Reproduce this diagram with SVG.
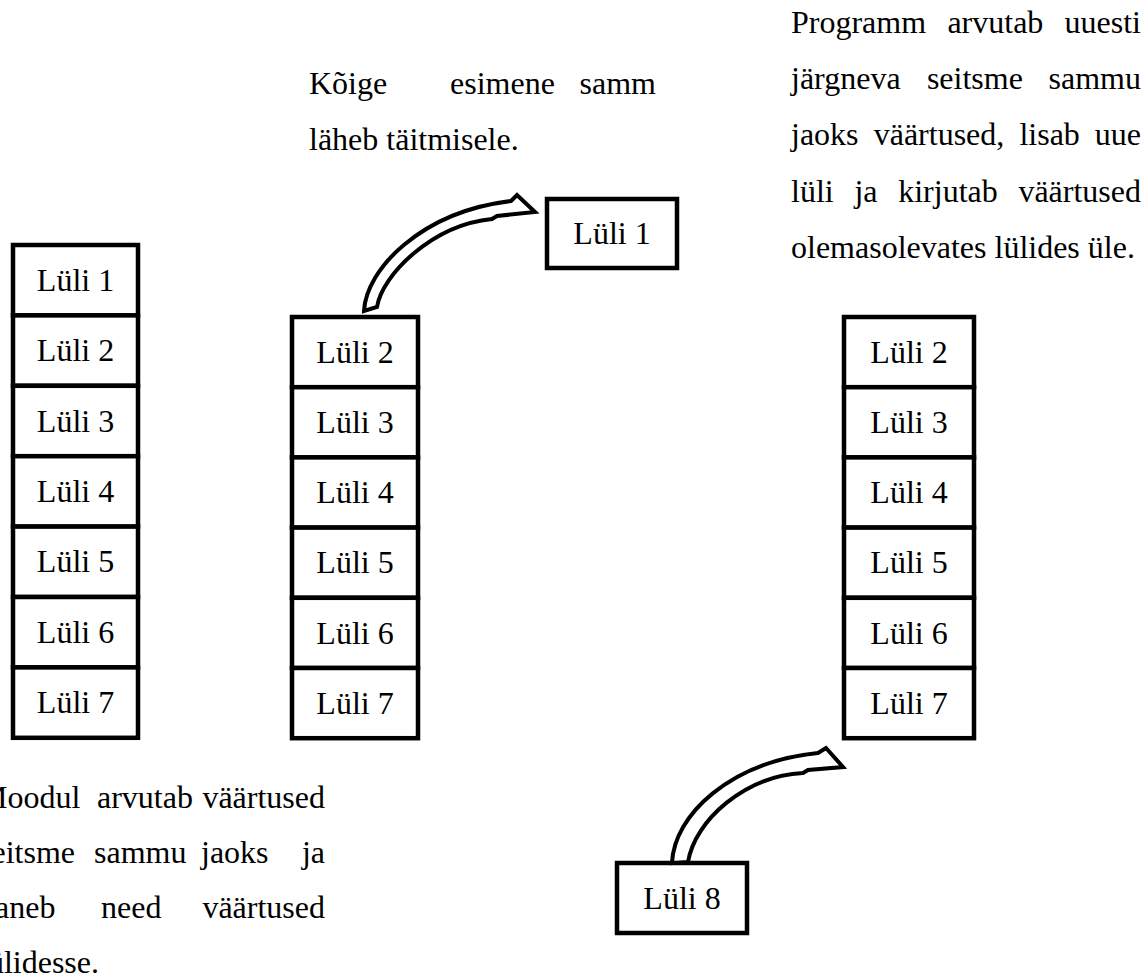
<svg xmlns="http://www.w3.org/2000/svg" width="1147" height="977" viewBox="0 0 1147 977">
<style>
text{font-family:"Liberation Serif","Times New Roman",serif;font-size:32px;fill:#000}
.c{text-anchor:middle}
.e{text-anchor:end}
.box{fill:#fff;stroke:#000;stroke-width:4.5}
.arr{fill:#fff;stroke:#000;stroke-width:4;stroke-linejoin:miter}
</style>
<rect width="1147" height="977" fill="#fff"/>
<g id="stack-left">
<g id="L1-a"><rect class="box" x="13" y="245" width="125" height="70.4"/><text class="c" x="75.5" y="290.8">Lüli 1</text></g>
<g id="L2-a"><rect class="box" x="13" y="315.4" width="125" height="70.4"/><text class="c" x="75.5" y="361.2">Lüli 2</text></g>
<g id="L3-a"><rect class="box" x="13" y="385.8" width="125" height="70.4"/><text class="c" x="75.5" y="431.6">Lüli 3</text></g>
<g id="L4-a"><rect class="box" x="13" y="456.2" width="125" height="70.4"/><text class="c" x="75.5" y="502">Lüli 4</text></g>
<g id="L5-a"><rect class="box" x="13" y="526.6" width="125" height="70.4"/><text class="c" x="75.5" y="572.4">Lüli 5</text></g>
<g id="L6-a"><rect class="box" x="13" y="597" width="125" height="70.4"/><text class="c" x="75.5" y="642.8">Lüli 6</text></g>
<g id="L7-a"><rect class="box" x="13" y="667.4" width="125" height="70.4"/><text class="c" x="75.5" y="713.2">Lüli 7</text></g>
</g>
<g id="stack-middle">
<g id="L2-b"><rect class="box" x="292" y="317" width="126" height="70.2"/><text class="c" x="355" y="362.7">Lüli 2</text></g>
<g id="L3-b"><rect class="box" x="292" y="387.2" width="126" height="70.2"/><text class="c" x="355" y="432.9">Lüli 3</text></g>
<g id="L4-b"><rect class="box" x="292" y="457.4" width="126" height="70.2"/><text class="c" x="355" y="503.1">Lüli 4</text></g>
<g id="L5-b"><rect class="box" x="292" y="527.6" width="126" height="70.2"/><text class="c" x="355" y="573.3">Lüli 5</text></g>
<g id="L6-b"><rect class="box" x="292" y="597.8" width="126" height="70.2"/><text class="c" x="355" y="643.5">Lüli 6</text></g>
<g id="L7-b"><rect class="box" x="292" y="668" width="126" height="70.2"/><text class="c" x="355" y="713.7">Lüli 7</text></g>
</g>
<g id="stack-right">
<g id="L2-c"><rect class="box" x="844" y="317" width="130" height="70.2"/><text class="c" x="909" y="362.7">Lüli 2</text></g>
<g id="L3-c"><rect class="box" x="844" y="387.2" width="130" height="70.2"/><text class="c" x="909" y="432.9">Lüli 3</text></g>
<g id="L4-c"><rect class="box" x="844" y="457.4" width="130" height="70.2"/><text class="c" x="909" y="503.1">Lüli 4</text></g>
<g id="L5-c"><rect class="box" x="844" y="527.6" width="130" height="70.2"/><text class="c" x="909" y="573.3">Lüli 5</text></g>
<g id="L6-c"><rect class="box" x="844" y="597.8" width="130" height="70.2"/><text class="c" x="909" y="643.5">Lüli 6</text></g>
<g id="L7-c"><rect class="box" x="844" y="668" width="130" height="70.2"/><text class="c" x="909" y="713.7">Lüli 7</text></g>
</g>
<g id="L1-out"><rect class="box" x="547" y="199" width="130" height="69"/><text class="c" x="612" y="244">Lüli 1</text></g>
<g id="L8-new"><rect class="box" x="617" y="863" width="130" height="70"/><text class="c" x="682" y="908.5">Lüli 8</text></g>
<g id="connectors">
<path class="arr" d="M364,311 C366,270 420,212 511,201 L517,195 L535,212 L497,216 L492,219 C432,225 382,275 377,307 Z"/>
<path class="arr" d="M672,863 C674,815 730,762 818,753 L826,748 L843,767 L808,770 L803,773 C745,776 695,820 688,862 Z"/>
</g>
<g id="text-middle">
<text x="309" y="94">Kõige</text>
<text x="450" y="94">esimene</text>
<text class="e" x="656" y="94">samm</text>
<text x="309" y="150">läheb täitmisele.</text>
</g>
<g id="text-right">
<text x="791" y="33">Programm</text><text x="947.4" y="33">arvutab</text><text class="e" x="1141" y="33">uuesti</text>
<text x="791" y="89">järgneva</text><text x="926.9" y="89">seitsme</text><text class="e" x="1141" y="89">sammu</text>
<text x="791" y="145">jaoks</text><text x="873.7" y="145">väärtused,</text><text x="1019.4" y="145">lisab</text><text class="e" x="1141" y="145">uue</text>
<text x="791" y="202">lüli</text><text x="854.4" y="202">ja</text><text x="898.2" y="202">kirjutab</text><text class="e" x="1141" y="202">väärtused</text>
<text x="791" y="258">olemasolevates lülides üle.</text>
</g>
<g id="text-left">
<text x="-21" y="808">Moodul</text><text x="97" y="808">arvutab</text><text class="e" x="325" y="808">väärtused</text>
<text x="-21" y="863">seitsme</text><text x="94" y="863">sammu</text><text x="201" y="863">jaoks</text><text class="e" x="325" y="863">ja</text>
<text x="-21" y="918">paneb</text><text x="101" y="918">need</text><text class="e" x="325" y="918">väärtused</text>
<text x="-21" y="973">lülidesse.</text>
</g>
</svg>
